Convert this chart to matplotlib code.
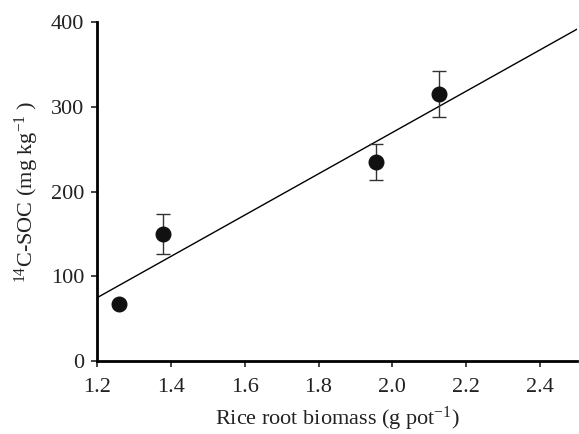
import numpy as np
import matplotlib
matplotlib.use('Agg')
import matplotlib.pyplot as plt

plt.rcParams['font.family'] = 'Liberation Serif'
plt.rcParams['mathtext.fontset'] = 'custom'
plt.rcParams['mathtext.rm'] = 'Liberation Serif'
plt.rcParams['mathtext.it'] = 'Liberation Serif:italic'

# root biomass vs 14C-SOC
biomass = [1.26, 1.38, 1.955, 2.125]
soc = [67, 150, 235, 315]
soc_err = [0, 24, 21, 27]

x_ticks = [1.2, 1.4, 1.6, 1.8, 2.0, 2.2, 2.4]
x_ticklabels = ['1.2', '1.4', '1.6', '1.8', '2.0', '2.2', '2.4']
y_ticks = [0, 100, 200, 300, 400]

fig = plt.figure(figsize=(5.79, 4.34), dpi=100)
ax = fig.add_axes([0.1675, 0.168, 0.829, 0.781])

# linear fit
slope, icpt = np.polyfit(biomass, soc, 1)
xl = np.array([1.2, 2.6])
ax.plot(xl, slope * xl + icpt, color='black', lw=1.0, zorder=1)

ax.errorbar(biomass, soc, yerr=soc_err, fmt='none', ecolor='#333333',
            elinewidth=1.0, capsize=5, capthick=1.0, zorder=2)
ax.plot(biomass, soc, 'o', color='#111111', ms=10.5, zorder=3)

ax.set_xlim(1.2, 2.5)
ax.set_ylim(0, 400)
ax.set_xticks(x_ticks)
ax.set_xticklabels(x_ticklabels)
ax.set_yticks(y_ticks)

for s in ['top', 'right']:
    ax.spines[s].set_visible(False)
for s in ['left', 'bottom']:
    ax.spines[s].set_linewidth(2.0)
ax.tick_params(direction='out', length=4, width=1.2, labelsize=16, colors='#222222')
ax.tick_params(axis='x', pad=8)
ax.tick_params(axis='y', pad=5)

ax.set_xlabel(r'Rice root biomass (g pot$^{-1}$)', fontsize=16, labelpad=6, color='#222222')
ax.set_ylabel(r'$^{14}$C-SOC (mg kg$^{-1}$ )', fontsize=16, labelpad=7, color='#222222')

fig.savefig('out.png', dpi=100)
